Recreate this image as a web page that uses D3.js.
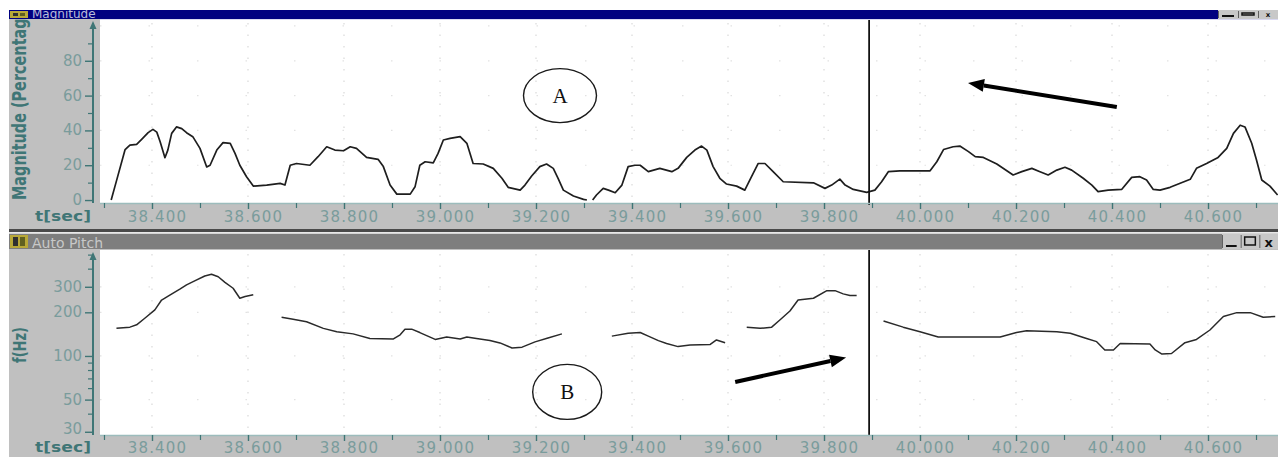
<!DOCTYPE html>
<html><head><meta charset="utf-8">
<script src="https://cdn.jsdelivr.net/npm/d3@7"></script>
<style>
html,body{margin:0;padding:0;background:#fff;}
svg{display:block;}
</style></head><body>
<svg id="c" width="1278" height="460"></svg>
<script>
// ---------- data ----------
const timeTicks = [38.4,38.6,38.8,39.0,39.2,39.4,39.6,39.8,40.0,40.2,40.4,40.6];
const timeTickLabels = ["38.400","38.600","38.800","39.000","39.200","39.400","39.600","39.800","40.000","40.200","40.400","40.600"];
const timeMinorTicks = [38.3,38.5,38.7,38.9,39.1,39.3,39.5,39.7,39.9,40.1,40.3,40.5,40.7];
const magTicks = [0,20,40,60,80];
const magMinorTicks = [10,30,50,70,90];
const pitchTicks = [30,50,100,200,300];
const pitchMinorTicks = [40,60,70,80,90,400,500];

const magTime = [38.315,38.326,38.344,38.354,38.368,38.379,38.392,38.402,38.410,38.417,38.427,38.433,38.441,38.451,38.462,38.472,38.485,38.500,38.514,38.521,38.535,38.548,38.563,38.573,38.583,38.597,38.611,38.639,38.667,38.677,38.688,38.701,38.729,38.746,38.764,38.781,38.799,38.813,38.826,38.847,38.871,38.882,38.896,38.910,38.938,38.948,38.958,38.969,38.986,38.996,39.007,39.021,39.042,39.056,39.069,39.090,39.111,39.129,39.142,39.167,39.177,39.191,39.208,39.222,39.236,39.246,39.257,39.278,39.299,39.306,39.312,39.318,39.326,39.340,39.351,39.365,39.379,39.392,39.406,39.417,39.434,39.458,39.483,39.496,39.514,39.531,39.545,39.556,39.569,39.583,39.597,39.618,39.635,39.649,39.663,39.677,39.694,39.715,39.778,39.802,39.816,39.833,39.844,39.861,39.889,39.906,39.920,39.934,39.958,40.021,40.035,40.049,40.069,40.083,40.101,40.115,40.132,40.160,40.194,40.212,40.233,40.250,40.267,40.285,40.302,40.316,40.340,40.358,40.371,40.392,40.420,40.441,40.458,40.472,40.486,40.500,40.521,40.542,40.563,40.576,40.597,40.621,40.639,40.653,40.667,40.677,40.691,40.701,40.712,40.729,40.745];
const magValue = [0,11,29,31.6,32,35,38.7,40.6,39,33.5,24.3,28.7,38.3,42,41,38.7,36.4,29.7,19,20,28.7,33,32.6,26.8,20,13.4,8,8.6,9.6,8.6,20,21,20,24.9,30.6,28.7,28.3,30.6,29.7,24.5,23.4,19.2,8.6,3.4,3.4,7.6,20,22,21.4,26.8,34.5,35.4,36.4,32.6,21,20.7,18.2,12.5,7.3,5.7,8.6,13.8,19.2,20.7,18.2,12.5,5.7,2.3,0.4,0,null,0,2.9,6.7,5.7,4.2,8.6,19.2,20,20,16.3,18.2,16.3,18.2,24.5,28.7,31,28.7,19.2,12.5,9.2,8,5.7,13.4,21,21,16.3,10.5,9.9,6.7,8.6,12,8.6,6.1,4.4,5.7,10.5,16.3,16.8,16.8,22,29,30.6,31,27.8,24.9,24.5,20.7,14.4,16.3,18.2,16.3,14.4,17.2,18.8,17.2,12.5,8.6,4.8,5.7,6.1,13,13.4,11.5,6.1,5.7,7.3,9.6,11.9,18.2,21,24.5,29.7,38.3,43,42,32.6,23,11.5,8,2.9];

const pitchTime = [38.326,38.354,38.368,38.385,38.406,38.420,38.438,38.458,38.472,38.490,38.510,38.524,38.538,38.552,38.569,38.583,38.594,38.611,
  38.640,
  38.670,38.694,38.722,38.757,38.785,38.819,38.854,38.903,38.917,38.927,38.941,38.958,38.990,39.014,39.042,39.056,39.076,39.104,39.125,39.150,39.171,39.198,39.225,39.254,
  39.300,
  39.358,39.392,39.417,39.434,39.455,39.472,39.496,39.521,39.563,39.576,39.594,
  39.615,
  39.639,39.667,39.691,39.708,39.729,39.746,39.778,39.806,39.823,39.840,39.854,39.868,
  39.900,
  39.924,39.965,40.000,40.038,40.167,40.201,40.222,40.285,40.313,40.347,40.368,40.385,40.403,40.417,40.479,40.490,40.504,40.524,40.552,40.576,40.604,40.632,40.660,40.688,40.715,40.740];
const pitchHz = [155,158,164,182,208,243,264,289,309,331,356,366,352,322,293,250,257,264,
  null,
  185,179,172,155,147,142,132,131,140,153,153,145,130,135,131,135,132,128,123,113.5,115,125,133,142,
  null,
  137,143.5,145,137,127.5,122,116,119,120,129,123.5,
  null,
  158,155,158,177,204,243,250,282,282,268,261,261,
  null,
  174,158,147,135,135,145,149,147,143.5,132,125.5,110,110,122,121,110,103,104,123.5,130,151,187,199,199,185,187];

const cursorTime = 39.894;

// ---------- layout ----------
const svg = d3.select("#c");
const GRAY = "#c0c0c0", TEAL = "#3f7676", LABEL = "#7a9c9c";
const L = 100, R = 1278;
const topP = {y0: 19, y1: 203};
const botP = {y0: 250, y1: 435};

const x = d3.scaleLinear().domain([38.2917, 40.7458]).range([L, R]);
const yMag = d3.scaleLinear().domain([-1.7, 104]).range([topP.y1, topP.y0]);
const yPitch = d3.scaleLog().domain([28.5, 538]).range([botP.y1, botP.y0]);

// backgrounds
svg.append("rect").attr("x",0).attr("y",0).attr("width",1278).attr("height",460).attr("fill","#fff");
svg.append("rect").attr("x",9).attr("y",10).attr("width",1269).attr("height",447).attr("fill",GRAY);
svg.append("rect").attr("x",L).attr("y",topP.y0).attr("width",R-L).attr("height",topP.y1-topP.y0).attr("fill","#fff");
svg.append("rect").attr("x",L).attr("y",botP.y0).attr("width",R-L).attr("height",botP.y1-botP.y0).attr("fill","#fff");

const defs = svg.append("defs");
defs.append("clipPath").attr("id","clipTop").append("rect").attr("x",L).attr("y",topP.y0).attr("width",R-L).attr("height",topP.y1-topP.y0+1);
defs.append("clipPath").attr("id","clipBot").append("rect").attr("x",L).attr("y",botP.y0).attr("width",R-L).attr("height",botP.y1-botP.y0);
defs.append("clipPath").attr("id","clipTitleTop").append("rect").attr("x",0).attr("y",topP.y0).attr("width",100).attr("height",210);
defs.append("clipPath").attr("id","clipBar1").append("rect").attr("x",9).attr("y",10).attr("width",1200).attr("height",9);

// grid (faint dotted)
const gTop = svg.append("g").attr("clip-path","url(#clipTop)");
const gBot = svg.append("g").attr("clip-path","url(#clipBot)");
[[gTop, topP],[gBot, botP]].forEach(([g, p]) => {
  g.selectAll("line.vg").data(timeTicks).join("line")
    .attr("x1", d=>x(d)).attr("x2", d=>x(d)).attr("y1", p.y0+4).attr("y2", p.y1)
    .attr("stroke","#d9d9d9").attr("stroke-width",1.2).attr("stroke-dasharray","1.5,10");
});
gTop.selectAll("line.hg").data([20,40,60,80,100]).join("line")
  .attr("x1",L).attr("x2",R).attr("y1",d=>yMag(d)).attr("y2",d=>yMag(d))
  .attr("stroke","#e2e2e2").attr("stroke-width",1.2).attr("stroke-dasharray","1.5,47");
gBot.selectAll("line.hg").data([50,100,200,300]).join("line")
  .attr("x1",L).attr("x2",R).attr("y1",d=>yPitch(d)).attr("y2",d=>yPitch(d))
  .attr("stroke","#e2e2e2").attr("stroke-width",1.2).attr("stroke-dasharray","1.5,47");

// curves
const magData = magTime.map((t,i)=>({t, v: magValue[i]}));
const pitchData = pitchTime.map((t,i)=>({t, v: pitchHz[i]}));
gTop.append("path").datum(magData)
  .attr("d", d3.line().defined(d=>d.v!==null).x(d=>x(d.t)).y(d=>yMag(d.v)))
  .attr("fill","none").attr("stroke","#1e1e1e").attr("stroke-width",1.7).attr("stroke-linejoin","round");
gBot.append("path").datum(pitchData)
  .attr("d", d3.line().defined(d=>d.v!==null).x(d=>x(d.t)).y(d=>yPitch(d.v)))
  .attr("fill","none").attr("stroke","#2a2a2a").attr("stroke-width",1.5).attr("stroke-linejoin","round");

// cursor
svg.append("line").attr("x1",x(cursorTime)).attr("x2",x(cursorTime)).attr("y1",topP.y0).attr("y2",topP.y1+2)
  .attr("stroke","#111").attr("stroke-width",1.8);
svg.append("line").attr("x1",x(cursorTime)).attr("x2",x(cursorTime)).attr("y1",botP.y0).attr("y2",botP.y1)
  .attr("stroke","#111").attr("stroke-width",1.8);

// x axes
function xAxis(yPos, labelY) {
  svg.append("line").attr("x1",L).attr("x2",R).attr("y1",yPos+0.5).attr("y2",yPos+0.5).attr("stroke","#9cbcbc").attr("stroke-width",1.5);
  const g = svg.append("g").attr("transform",`translate(0,${yPos})`)
    .call(d3.axisBottom(x).tickValues(timeTicks).tickSize(6).tickSizeOuter(0).tickFormat((d,i)=>timeTickLabels[i]));
  g.select(".domain").remove();
  g.selectAll(".tick line").attr("stroke",TEAL).attr("stroke-width",1.4);
  g.selectAll(".tick text").attr("y", labelY).attr("dx",5).attr("dy",0)
    .attr("fill",LABEL).style("font-family","'DejaVu Sans', sans-serif").style("font-size","15px").style("letter-spacing","1.2px");
  const gm = svg.append("g").attr("transform",`translate(0,${yPos})`)
    .call(d3.axisBottom(x).tickValues(timeMinorTicks).tickSize(5).tickFormat(""));
  gm.select(".domain").remove();
  gm.selectAll(".tick line").attr("stroke",TEAL).attr("stroke-width",1.2);
  svg.append("text").attr("x",35).attr("y",yPos+labelY-1).attr("textLength",56).attr("lengthAdjust","spacingAndGlyphs")
    .attr("fill",TEAL).style("font-family","'Liberation Sans Narrow','DejaVu Sans Condensed',sans-serif")
    .style("font-weight","bold").style("font-size","14px").text("t[sec]");
}
xAxis(topP.y1, 19);
xAxis(botP.y1, 18);

// y axes
const AX = 93;
function yAxis(scale, ticks, minor, y0, y1) {
  svg.append("line").attr("x1",AX).attr("x2",AX).attr("y1",y0+4).attr("y2",y1).attr("stroke",TEAL).attr("stroke-width",2);
  svg.append("path").attr("d",`M${AX-3.5},${y0+10}L${AX},${y0+2}L${AX+3.5},${y0+10}Z`).attr("fill",TEAL);
  const g = svg.append("g").attr("transform",`translate(${AX},0)`)
    .call(d3.axisLeft(scale).tickValues(ticks).tickSize(8).tickSizeOuter(0).tickFormat(d3.format("d")));
  g.select(".domain").remove();
  g.selectAll(".tick line").attr("stroke",TEAL).attr("stroke-width",1.4);
  g.selectAll(".tick text").attr("x",-11).attr("dy",(d,i)=> (i===0 && y1>400) ? "0.1em" : "0.3em").attr("fill",LABEL)
    .style("font-family","'DejaVu Sans', sans-serif").style("font-size","15px");
  const gm = svg.append("g").attr("transform",`translate(${AX},0)`)
    .call(d3.axisLeft(scale).tickValues(minor).tickSize(5).tickFormat(""));
  gm.select(".domain").remove();
  gm.selectAll(".tick line").attr("stroke",TEAL).attr("stroke-width",1.2);
}
yAxis(yMag, magTicks, magMinorTicks, topP.y0, topP.y1);
yAxis(yPitch, pitchTicks, pitchMinorTicks, botP.y0, botP.y1);

svg.append("g").attr("clip-path","url(#clipTitleTop)")
  .append("text")
  .attr("transform","translate(26,200) rotate(-90)")
  .attr("textLength",198).attr("lengthAdjust","spacingAndGlyphs")
  .attr("fill",TEAL).style("font-family","'Liberation Sans Narrow','DejaVu Sans Condensed',sans-serif")
  .style("font-weight","bold").style("font-size","19px").text("Magnitude (Percentage)");
svg.append("text").attr("transform","translate(26,363) rotate(-90)")
  .attr("textLength",36).attr("lengthAdjust","spacingAndGlyphs")
  .attr("fill",TEAL).style("font-family","'Liberation Sans Narrow','DejaVu Sans Condensed',sans-serif")
  .style("font-weight","bold").style("font-size","18px").text("f(Hz)");

// separator between panels
svg.append("rect").attr("x",9).attr("y",229).attr("width",1269).attr("height",3).attr("fill","#4a4a4a");
svg.append("rect").attr("x",9).attr("y",232).attr("width",1269).attr("height",1.5).attr("fill","#e8e8e8");

// title bars
function titleBar(y, h, color, label, textColor, btnX, fontSize, clip) {
  svg.append("rect").attr("x",9).attr("y",y).attr("width",1269).attr("height",h).attr("fill",color);
  svg.append("rect").attr("x",10).attr("y",y+1).attr("width",18).attr("height",h-2).attr("fill","#b8a838");
  svg.append("rect").attr("x",13).attr("y",y+3).attr("width",5).attr("height",h-6).attr("fill","#303030");
  svg.append("rect").attr("x",20).attr("y",y+3).attr("width",5).attr("height",h-6).attr("fill","#606020");
  const tg = svg.append("g");
  if (clip) tg.attr("clip-path", clip);
  tg.append("text").attr("x",32).attr("y",y+h-1).attr("fill",textColor)
    .style("font-family","'DejaVu Sans', sans-serif").style("font-size",fontSize+"px").text(label);
  svg.append("rect").attr("x",btnX).attr("y",y).attr("width",1278-btnX).attr("height",h).attr("fill","#c8c8c8");
  const bw = (1278-btnX)/3;
  for (let i=0;i<3;i++){
    svg.append("line").attr("x1",btnX+bw*i+0.5).attr("x2",btnX+bw*i+0.5).attr("y1",y+1).attr("y2",y+h-1).attr("stroke","#606060");
  }
  svg.append("line").attr("x1",btnX+4).attr("x2",btnX+bw-4).attr("y1",y+h-3).attr("y2",y+h-3).attr("stroke","#111").attr("stroke-width",2);
  svg.append("rect").attr("x",btnX+bw+4).attr("y",y+3).attr("width",bw-8).attr("height",h-7).attr("fill","none").attr("stroke","#111").attr("stroke-width",1.5);
  svg.append("text").attr("x",btnX+2.5*bw).attr("y",y+h-2).attr("text-anchor","middle").attr("fill","#111")
    .style("font-family","'DejaVu Sans', sans-serif").style("font-weight","bold").style("font-size",(h-2)+"px").text("x");
}
titleBar(10, 9, "#000080", "Magnitude", "#b8bcd8", 1218, 12, "url(#clipBar1)");
svg.append("rect").attr("x",L).attr("y",19).attr("width",R-L).attr("height",1).attr("fill","#d8d8f0");
titleBar(234, 15, "#7e7e7e", "Auto Pitch", "#c8c8c8", 1222, 14, null);

// annotations
function ellipseLabel(cx, cy, rx, ry, txt) {
  svg.append("ellipse").attr("cx",cx).attr("cy",cy).attr("rx",rx).attr("ry",ry)
    .attr("fill","none").attr("stroke","#1a1a1a").attr("stroke-width",1.4);
  svg.append("text").attr("x",cx).attr("y",cy+7).attr("text-anchor","middle").attr("fill","#111")
    .style("font-family","'Liberation Serif','DejaVu Serif',serif").style("font-size","21px").text(txt);
}
function arrow(x1, y1, x2, y2) {
  const dx = x2-x1, dy = y2-y1, len = Math.hypot(dx,dy), ux = dx/len, uy = dy/len;
  const hl = 16, hw = 6.5;
  const bx = x2 - ux*hl, by = y2 - uy*hl;
  svg.append("line").attr("x1",x1).attr("y1",y1).attr("x2",bx).attr("y2",by).attr("stroke","#000").attr("stroke-width",4);
  svg.append("path").attr("d",`M${x2},${y2}L${bx - uy*hw},${by + ux*hw}L${bx + uy*hw},${by - ux*hw}Z`).attr("fill","#000");
}
ellipseLabel(x(39.25), yMag(60), 36.5, 27, "A");
arrow(x(40.41), yMag(53.4), x(40.1), yMag(67.3));
ellipseLabel(x(39.265), yPitch(56.5), 34.5, 27.5, "B");
arrow(x(39.615), yPitch(66.2), x(39.846), yPitch(97.5));
</script>
</body></html>
